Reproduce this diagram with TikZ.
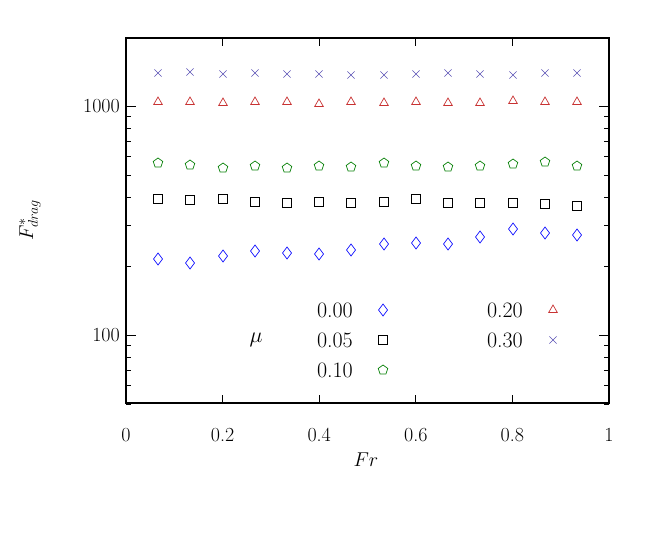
\RequirePackage{fix-cm}
\documentclass[tikz,border=0pt]{standalone}
\usepackage{fontspec}
\usetikzlibrary{plotmarks}
\begin{document}
\begin{tikzpicture}[x=1pt,y=-1pt,
  lbl/.style={font=\fontsize{20}{22}\selectfont,inner sep=0pt},
  leg/.style={font=\fontsize{22}{24}\selectfont,inner sep=0pt,anchor=east},
  mk/.style={only marks,mark size=5pt,mark options={solid,line width=0.7pt}}]
\useasboundingbox (0,0) rectangle (665,535);
\definecolor{cB}{RGB}{20,20,255}
\definecolor{cG}{RGB}{10,130,10}
\definecolor{cR}{RGB}{200,50,50}
\definecolor{cP}{RGB}{90,80,180}
% ticks
\foreach \i in {0,...,5}{
  \pgfmathsetmacro\xx{126+96.6*\i}
  \draw[line width=0.8pt] (\xx,403) -- (\xx,395) (\xx,38) -- (\xx,46);
}
\foreach \v in {50,60,70,80,90,200,300,400,500,600,700,800,900,2000}{
  \pgfmathsetmacro\yy{335-229*log10(\v/100)}
  \draw[line width=0.8pt] (126,\yy) -- (131,\yy) (609,\yy) -- (604,\yy);
}
\foreach \yy in {335,106}{
  \draw[line width=0.8pt] (126,\yy) -- (136,\yy) (609,\yy) -- (599,\yy);
}
\draw[line width=1.2pt] (126,38) rectangle (609,403);
% tick labels
\foreach \i/\t in {0/0,1/0.2,2/0.4,3/0.6,4/0.8,5/1}{
  \pgfmathsetmacro\xx{126+96.6*\i}
  \node[lbl] (xt\i) at (\xx,435) {\t};
}
\node[lbl,anchor=east] (y1000) at (120,106) {1000};
\node[lbl,anchor=east] (y100) at (120,335) {100};
\node[lbl] (xl) at (366,460) {$Fr$};
\node[lbl,rotate=90] (yl) at (30,220) {$F^*_{drag}$};
% data
\draw[cP,mk,mark=x] plot coordinates {(158,73)(190,72)(223,74)(255,73)(287,74)(319,74)(351,75)(384,75)(416,74)(448,73)(480,74)(513,75)(545,73)(577,73)};
\draw[cR,mk,mark=triangle] plot coordinates {(158,102)(190,102)(223,103)(255,102)(287,102)(319,104)(351,102)(384,103)(416,102)(448,103)(480,103)(513,101)(545,102)(577,102)};
\draw[cG,mk,mark=pentagon] plot coordinates {(158,163)(190,165)(223,168)(255,166)(287,168)(319,166)(351,167)(384,163)(416,166)(448,167)(480,166)(513,164)(545,162)(577,166)};
\draw[black,mk,mark=square,mark size=4.5pt] plot coordinates {(158,199)(190,200)(223,199)(255,202)(287,203)(319,202)(351,203)(384,202)(416,199)(448,203)(480,203)(513,203)(545,204)(577,206)};
\draw[cB,mk,mark=diamond,mark size=6pt] plot coordinates {(158,259)(190,263)(223,256)(255,251)(287,253)(319,254)(351,250)(384,244)(416,243)(448,244)(480,237)(513,229)(545,233)(577,235)};
% legend
\node[lbl,font=\fontsize{22}{24}\selectfont] (mu) at (256,340) {$\mu$};
\node[leg] (l0) at (353,310) {0.00};
\node[leg] (l1) at (353,340) {0.05};
\node[leg] (l2) at (353,370) {0.10};
\node[leg] (l3) at (523,310) {0.20};
\node[leg] (l4) at (523,340) {0.30};
\draw[cB,mk,mark=diamond,mark size=6pt] plot coordinates {(383,310)};
\draw[black,mk,mark=square,mark size=4.5pt] plot coordinates {(383,340)};
\draw[cG,mk,mark=pentagon] plot coordinates {(383,370)};
\draw[cR,mk,mark=triangle] plot coordinates {(553,310)};
\draw[cP,mk,mark=x] plot coordinates {(553,340)};
\end{tikzpicture}
\end{document}
